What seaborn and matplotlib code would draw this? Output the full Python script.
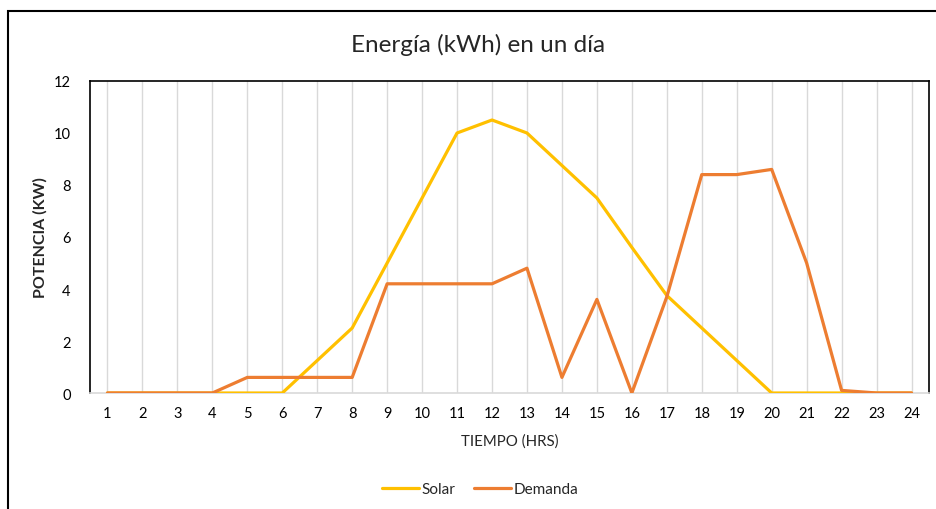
import pandas as pd
import numpy as np
import matplotlib.pyplot as plt
import seaborn as sns
from matplotlib.patches import Rectangle

# hours of the day
horas = list(range(1, 25))

# solar generation (kW)
solar = [0, 0, 0, 0, 0, 0, 1.25, 2.5, 5, 7.5, 10, 10.5,
         10, 8.75, 7.5, 5.6, 3.75, 2.5, 1.25, 0, 0, 0, 0, 0]

# demand (kW)
demanda = [0, 0, 0, 0, 0.6, 0.6, 0.6, 0.6, 4.2, 4.2, 4.2, 4.2,
           4.8, 0.6, 3.6, 0, 3.7, 8.4, 8.4, 8.6, 5.0, 0.1, 0, 0]

series_names = ["Solar", "Demanda"]
palette = {"Solar": "#FFC000", "Demanda": "#ED7D31"}

# long format for seaborn
data = pd.DataFrame({
    "hora": horas * 2,
    "kw": solar + demanda,
    "serie": [series_names[0]] * len(horas) + [series_names[1]] * len(horas),
})

sns.set_style("white")
plt.rcParams["font.family"] = ["Lato", "DejaVu Sans"]

fig = plt.figure(figsize=(9.36, 5.10), dpi=100)
ax = fig.add_axes([90 / 936, 1 - 394 / 510, 839 / 936, 312 / 510])

# vertical gridlines at each hour
for h in horas:
    ax.axvline(h, color="#D9D9D9", lw=1, zorder=0)

sns.lineplot(data=data, x="hora", y="kw", hue="serie", palette=palette,
             linewidth=2.3, ax=ax, legend=False, zorder=3)

ax.set_xlim(0.5, 24.5)
ax.set_ylim(0, 12)
ax.set_xticks(horas)
ax.set_yticks(np.arange(0, 13, 2))
ax.tick_params(axis="both", length=0, labelsize=10.5, colors="#000000", pad=9)
ax.tick_params(axis="y", pad=14)
ax.set_xlabel("TIEMPO (HRS)", fontsize=10.8, labelpad=10)
ax.set_ylabel("POTENCIA (KW)", fontsize=11.5, fontweight="bold", labelpad=4)

for side in ["left", "top", "right"]:
    ax.spines[side].set_color("black")
    ax.spines[side].set_linewidth(1.2)
ax.spines["bottom"].set_color("#D9D9D9")
ax.spines["bottom"].set_linewidth(1.2)

fig.text(0.511, 1 - 45 / 510, "Energía (kWh) en un día", ha="center",
         va="center", fontsize=17.5)

handles = [plt.Line2D([], [], color=palette[s], lw=2.3) for s in series_names]
fig.legend(handles, series_names, loc="center", bbox_to_anchor=(0.513, 1 - 490 / 510),
           ncol=2, frameon=False, fontsize=11, handlelength=2.4,
           handletextpad=0.2, columnspacing=1.2)

# outer chart border (cropped at right and bottom)
fig.patches.append(Rectangle((8 / 936, -0.2), 1.2, 1.2 - 12 / 510,
                             transform=fig.transFigure, fill=False,
                             edgecolor="black", lw=1.5))

fig.savefig("out.png", dpi=100)
